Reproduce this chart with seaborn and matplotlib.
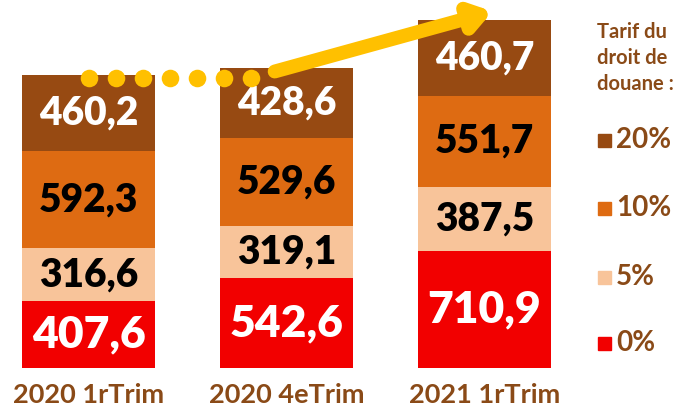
import matplotlib.pyplot as plt
import seaborn as sns
import pandas as pd
import numpy as np

# data
periods = ['2020 1rTrim', '2020 4eTrim', '2021 1rTrim']
tarifs = ['0%', '5%', '10%', '20%']
v0 = [407.6, 542.6, 710.9]
v5 = [316.6, 319.1, 387.5]
v10 = [592.3, 529.6, 551.7]
v20 = [460.2, 428.6, 460.7]

colors = {'0%': '#F20000', '5%': '#F8C49A', '10%': '#DE6B12', '20%': '#974A12'}
text_colors = {'0%': 'white', '5%': 'black', '10%': 'black', '20%': 'white'}
label_sizes = {'0%': 32, '5%': 28, '10%': 28, '20%': 28}
brown = '#8A4A17'
gold = '#FFC000'

df = pd.DataFrame({'periode': periods, '0%': v0, '5%': v5, '10%': v10, '20%': v20})

sns.set_style('white')
plt.rcParams['font.family'] = ['Lato', 'DejaVu Sans']

fig = plt.figure(figsize=(6.86, 4.16), dpi=100)
ax = fig.add_axes([0, 48 / 416, 560 / 686, 368 / 416])

bottom = np.zeros(len(periods))
for t in tarifs:
    sns.barplot(x=df['periode'], y=df[t] + bottom, color=colors[t], ax=ax,
                width=0.672, saturation=1, linewidth=0,
                zorder=len(tarifs) - tarifs.index(t))
    bottom = bottom + df[t].values

# labels inside the segments
bottom = np.zeros(len(periods))
for t in tarifs:
    for i, v in enumerate(df[t]):
        ax.text(i, bottom[i] + v / 2, f'{v:.1f}'.replace('.', ','),
                ha='center', va='center', fontsize=label_sizes[t],
                fontweight='heavy', color=text_colors[t], zorder=10)
    bottom = bottom + df[t].values

totals = bottom
ax.set_xlim(-0.447, 2.381)
ax.set_ylim(0, 2230)
ax.set_xlabel('')
ax.set_ylabel('')
ax.set_yticks([])
ax.set_xticks([])
for sp in ax.spines.values():
    sp.set_visible(False)

# x labels
for i, p in enumerate(periods):
    ax.text(i, -165, p, ha='center', va='center', fontsize=19.5,
            fontweight='bold', color=brown, clip_on=False)

# dotted line then arrow
dot_x = np.linspace(0, 0.82, 7)
ax.scatter(dot_x, np.full(len(dot_x), totals[0] - 20), s=160, color=gold,
           zorder=20, clip_on=False, linewidths=0)
ax.annotate('', xy=(2.04, totals[2] + 50), xytext=(0.94, totals[0] + 20),
            arrowprops=dict(arrowstyle='-|>,head_length=1.1,head_width=0.75',
                            color=gold, lw=10, shrinkA=0, shrinkB=0),
            zorder=20, annotation_clip=False)

# legend
fig.text(597 / 686, 1 - 58 / 416, 'Tarif du\ndroit de\ndouane :', ha='left',
         va='center', fontsize=14.5, fontweight='bold', color=brown,
         linespacing=1.35)
leg_y = {'20%': 140, '10%': 208, '5%': 277, '0%': 343}
for t in tarifs:
    y = 1 - leg_y[t] / 416
    fig.patches.append(plt.Rectangle((598 / 686, y - 6.5 / 416), 13 / 686, 13 / 416,
                                     transform=fig.transFigure, color=colors[t]))
    fig.text(616 / 686, y, t, ha='left', va='center', fontsize=20,
             fontweight='bold', color=brown)

fig.savefig('out.png', dpi=100)
